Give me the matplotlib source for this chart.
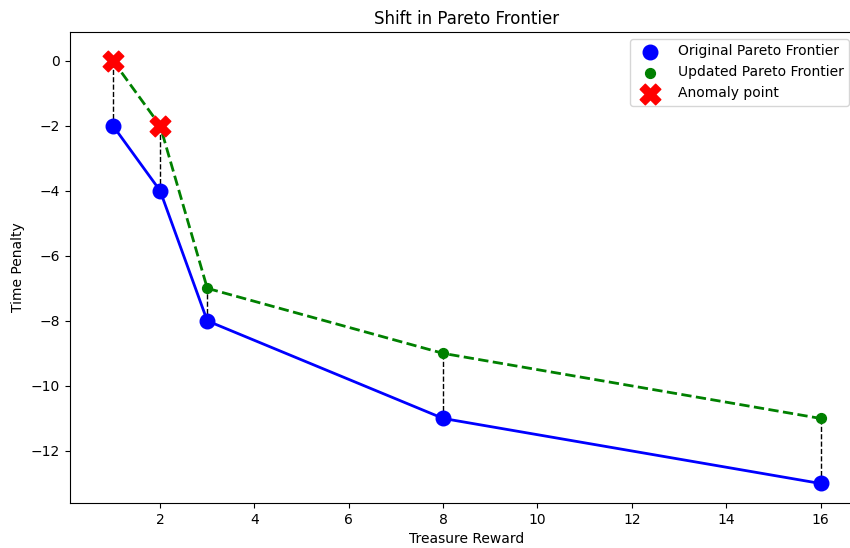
import matplotlib
matplotlib.use("Agg")
import matplotlib.pyplot as plt

# treasure reward vs time penalty for both frontiers
treasure = [1, 2, 3, 8, 16]
penalty_original = [-2, -4, -8, -11, -13]
penalty_updated = [0, -2, -7, -9, -11]

# points of the updated frontier flagged as anomalies
anomaly_treasure = [1, 2]
anomaly_penalty = [0, -2]

fig = plt.figure(figsize=(8.5, 5.48), dpi=100)
ax = fig.add_axes([70 / 850, 45 / 548, 793 / 850, 471 / 548])

# dashed connectors between old and new frontier values
for x, y0, y1 in zip(treasure, penalty_original, penalty_updated):
    ax.plot([x, x], [y0, y1], color="black", linestyle="--", linewidth=1, zorder=1)

ax.plot(treasure, penalty_original, color="blue", linewidth=2, zorder=2)
ax.plot(treasure, penalty_updated, color="green", linestyle="--", linewidth=2, zorder=2)

ax.scatter(treasure, penalty_original, s=110, color="blue", zorder=3,
           label="Original Pareto Frontier")
ax.scatter(treasure, penalty_updated, s=50, color="green", zorder=3,
           label="Updated Pareto Frontier")
ax.scatter(anomaly_treasure, anomaly_penalty, s=220, color="red", marker="X", zorder=4,
           label="Anomaly point")

ax.set_xlim(0.09, 16.9)
ax.set_ylim(-13.6, 0.88)
ax.set_xticks([2, 4, 6, 8, 10, 12, 14, 16])

ax.set_title("Shift in Pareto Frontier")
ax.set_xlabel("Treasure Reward")
ax.set_ylabel("Time Penalty")
ax.legend(loc="upper right", bbox_to_anchor=(1 - 7 / 793, 1), handletextpad=1.0)

fig.savefig("out.png", dpi=100)
